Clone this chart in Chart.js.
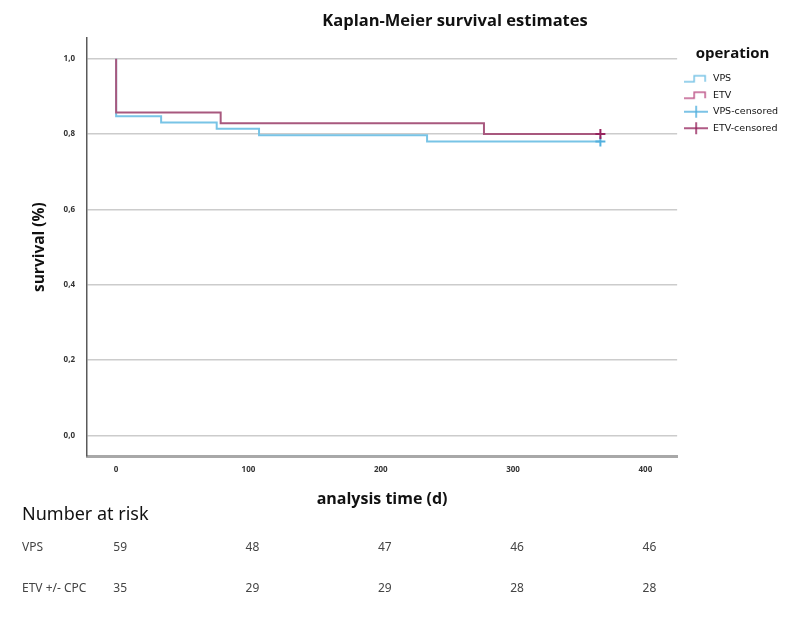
<!DOCTYPE html>
<html>
<head>
<meta charset="utf-8">
<script src="https://cdn.jsdelivr.net/npm/chart.js@4.4.1/dist/chart.umd.min.js"></script>
<style>
	html, body { margin: 0; padding: 0; background: #fff; }
	#wrap { width: 800px; height: 618px; }
</style>
</head>
<body>
<div id="wrap"><canvas id="chart0"></canvas></div>
<script>
	// Kaplan-Meier step points (time in days, survival)
	const vpsTimes = [0, 0, 34, 76, 108, 235, 366];
	const vpsSurvival = [1.0, 0.847, 0.831, 0.814, 0.797, 0.780, 0.780];
	const etvTimes = [0, 0, 79, 278, 366];
	const etvSurvival = [1.0, 0.857, 0.829, 0.800, 0.800];

	// censored observations
	const vpsCensorTimes = [366];
	const vpsCensorSurvival = [0.780];
	const etvCensorTimes = [366];
	const etvCensorSurvival = [0.800];

	// axes
	const xTicks = [0, 100, 200, 300, 400];
	const yTicks = [0, 0.2, 0.4, 0.6, 0.8, 1.0];

	// number at risk table
	const riskTimes = [0, 100, 200, 300, 400];
	const riskLabels = ['VPS', 'ETV +/- CPC'];
	const vpsAtRisk = [59, 48, 47, 46, 46];
	const etvAtRisk = [35, 29, 29, 28, 28];

	const VPS_COLOR = '#78c4e6';
	const ETV_COLOR = '#a8587e';
	const VPS_CENSOR = '#52b0de';
	const ETV_CENSOR = '#96245e';

	const boldFont = "'Open Sans', 'DejaVu Sans', sans-serif";
	const legendFont = "'DejaVu Sans', sans-serif";
	const tableFont = "'Noto Sans', 'Liberation Sans', sans-serif";

	function toPoints(xs, ys) {
		return xs.map((x, i) => ({ x: x, y: ys[i] }));
	}

	// small legend icons
	function stepIcon(color) {
		let c = document.createElement('canvas');
		c.width = 24; c.height = 10;
		let g = c.getContext('2d');
		g.strokeStyle = color;
		g.lineWidth = 1.5;
		g.beginPath();
		g.moveTo(0, 8); g.lineTo(10, 8); g.lineTo(10, 2); g.lineTo(21, 2); g.lineTo(21, 8);
		g.stroke();
		return c;
	}
	function crossIcon(color) {
		let c = document.createElement('canvas');
		c.width = 24; c.height = 14;
		let g = c.getContext('2d');
		g.strokeStyle = color;
		g.lineWidth = 1.5;
		g.beginPath();
		g.moveTo(0, 7); g.lineTo(24, 7);
		g.moveTo(12, 1); g.lineTo(12, 13);
		g.stroke();
		return c;
	}
	const icons = [stepIcon(VPS_COLOR), stepIcon('#c05a8c'), crossIcon(VPS_CENSOR), crossIcon(ETV_CENSOR)];

	/**
	 * タイトルと Number at risk 表を描く
	 */
	const extrasPlugin = {
		id: 'kmExtras',
		afterDraw(chart) {
			let ctx = chart.ctx;
			let xs = chart.scales.x;
			ctx.save();
			ctx.fillStyle = '#111';
			ctx.textBaseline = 'middle';
			ctx.textAlign = 'center';
			ctx.font = "bold 16.5px " + boldFont;
			ctx.fillText('Kaplan-Meier survival estimates', 455, 21);

			ctx.textAlign = 'left';
			ctx.font = "18px " + tableFont;
			ctx.fillText('Number at risk', 22, 515);

			let rows = [vpsAtRisk, etvAtRisk];
			let rowY = [548, 589];
			ctx.fillStyle = '#444';
			rows.forEach((vals, r) => {
				ctx.textAlign = 'left';
				ctx.font = "12px " + tableFont;
				ctx.fillText(riskLabels[r], 22, rowY[r]);
				ctx.textAlign = 'center';
				vals.forEach((v, i) => {
					ctx.fillText(String(v), xs.getPixelForValue(riskTimes[i]) + 4, rowY[r]);
				});
			});
			ctx.restore();
		}
	};

	let config = {
		type: 'line',
		data: {
			datasets: [{
				label: 'VPS',
				data: toPoints(vpsTimes, vpsSurvival),
				borderColor: VPS_COLOR,
				borderWidth: 2,
				stepped: 'before',
				pointRadius: 0,
				order: 3
			}, {
				label: 'ETV',
				data: toPoints(etvTimes, etvSurvival),
				borderColor: ETV_COLOR,
				borderWidth: 2,
				stepped: 'before',
				pointRadius: 0,
				order: 2
			}, {
				label: 'VPS-censored',
				data: toPoints(vpsCensorTimes, vpsCensorSurvival),
				borderColor: VPS_CENSOR,
				showLine: false,
				pointStyle: 'cross',
				pointRadius: 5,
				pointBorderWidth: 2,
				order: 1
			}, {
				label: 'ETV-censored',
				data: toPoints(etvCensorTimes, etvCensorSurvival),
				borderColor: ETV_CENSOR,
				showLine: false,
				pointStyle: 'cross',
				pointRadius: 5,
				pointBorderWidth: 2,
				order: 0
			}]
		},
		options: {
			responsive: true,
			maintainAspectRatio: false,
			animation: false,
			layout: {
				padding: { left: 30, top: 38, right: 12, bottom: 109 }
			},
			plugins: {
				title: { display: false },
				tooltip: { enabled: false },
				legend: {
					position: 'right',
					align: 'start',
					title: {
						display: true,
						text: 'operation',
						color: '#111',
						font: { family: boldFont, size: 15, weight: 'bold' },
						padding: { top: 8, bottom: 3 }
					},
					labels: {
						usePointStyle: true,
						pointStyleWidth: 24,
						padding: 7,
						color: '#333',
						font: { family: legendFont, size: 9.5 },
						generateLabels: function(chart) {
							return chart.data.datasets.map((ds, i) => ({
								text: ds.label,
								pointStyle: icons[i],
								fillStyle: ds.borderColor,
								strokeStyle: ds.borderColor,
								lineWidth: 0,
								hidden: false,
								datasetIndex: i
							}));
						}
					}
				}
			},
			scales: {
				x: {
					type: 'linear',
					min: -22,
					max: 424,
					afterBuildTicks: function(scale) {
						scale.ticks = xTicks.map(v => ({ value: v }));
					},
					grid: { display: false, drawTicks: false },
					border: { display: true, color: '#a8a8a8', width: 3 },
					ticks: {
						padding: 9,
						color: '#333',
						font: { family: boldFont, size: 8, weight: 'bold' },
						callback: v => String(v)
					},
					title: {
						display: true,
						text: 'analysis time (d)',
						color: '#111',
						font: { family: boldFont, size: 16, weight: 'bold' },
						padding: { top: 6, bottom: 0 }
					}
				},
				y: {
					type: 'linear',
					min: -0.055,
					max: 1.055,
					afterBuildTicks: function(scale) {
						scale.ticks = yTicks.map(v => ({ value: v }));
					},
					grid: { color: '#cccccc', lineWidth: 1.5, drawTicks: false },
					border: { display: true, color: '#5a5a5a', width: 1.5 },
					ticks: {
						padding: 12,
						color: '#333',
						font: { family: boldFont, size: 8, weight: 'bold' },
						callback: v => v.toFixed(1).replace('.', ',')
					},
					title: {
						display: true,
						text: 'survival (%)',
						color: '#111',
						font: { family: boldFont, size: 15.5, weight: 'bold' },
						padding: { top: 0, bottom: 3 }
					}
				}
			}
		},
		plugins: [extrasPlugin]
	};

	let grapharea = document.getElementById('chart0').getContext('2d');
	window.myChart = new Chart(grapharea, config);
</script>
</body>
</html>
